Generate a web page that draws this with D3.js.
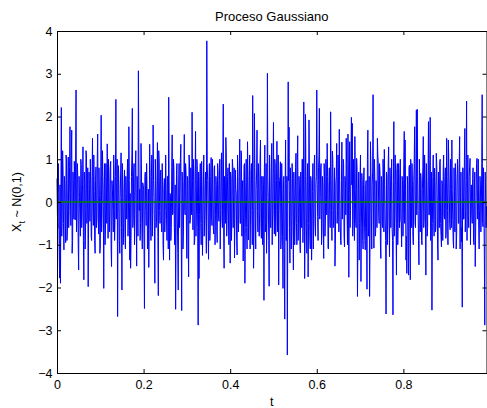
<!DOCTYPE html>
<html>
<head>
<meta charset="utf-8">
<script src="https://cdn.jsdelivr.net/npm/d3@7"></script>
<style>
  body { margin: 0; background: #fff; }
  svg { display: block; }
  text { font-family: "Liberation Sans", Arial, Helvetica, sans-serif; fill: #000; }
</style>
</head>
<body>
<svg id="chart" width="487" height="408"></svg>
<script>
// Gaussian process X_t ~ N(0,1), sampled every sampleStep seconds.
// evenSamples holds samples 0, 2, 4, ...; oddSamples holds samples 1, 3, 5, ...
const evenSamples = [
  0.55,-0.62,0.18,-1.78,-1.9,2.21,-0.35,0.72,-1.12,0.4,-0.95,0.96,-0.7,1.05,-0.2,1.76,-0.55,1.68,-0.9,0.3,
  0.95,-0.42,2.62,-0.25,0.6,-1.59,0.1,-0.8,0.88,-0.3,1.29,-1.82,0.45,-0.6,1.1,-0.15,-1.98,0.7,-0.45,0.35,
  -0.9,1.49,-0.55,0.25,-1.2,0.82,-0.4,1.59,-0.75,0.15,-1.05,2.03,-0.3,0.6,-2.02,0.9,-0.65,0.38,1.36,-0.85,
  0.5,-0.2,0.95,-1.51,0.3,-0.7,0.62,-0.4,2.4,0.2,-2.68,0.85,-0.9,0.1,1.15,-2.06,0.4,-0.5,0.75,-1.1,
  0.2,0.55,-0.8,1.76,-1.36,-1.55,0.6,2.19,-0.5,0.9,-0.3,1.2,-1.5,0.4,3.07,-0.2,-0.9,1.37,-0.6,0.45,
  0.3,-2.49,0.7,-0.55,0.25,-0.95,-1.53,1.35,-0.4,0.6,-0.8,1.8,0.1,-1.9,0.5,-0.35,1.39,-2.19,0.95,-0.5,
  0.75,-0.7,0.4,-1.36,0.55,-0.2,0.3,-0.9,0.6,2.45,-1.36,0.15,-0.6,1.57,-0.25,0.8,-1.0,-2.51,0.65,-0.4,
  -2.06,0.9,0.2,1.35,-2.54,0.45,-0.7,1.58,-0.3,0.7,-1.32,0.5,-1.75,0.95,-0.4,0.3,2.1,-0.65,0.6,-0.9,
  1.65,-0.3,0.85,-2.88,-1.79,0.6,-0.5,0.95,-1.25,0.4,-0.8,0.3,-0.35,3.77,0.5,-1.34,0.9,-0.6,1.04,-0.55,
  0.2,-0.75,0.85,-0.3,0.4,-0.95,0.7,-0.45,1.0,-0.2,1.15,-0.6,2.29,-1.55,0.3,1.51,-0.8,0.6,-0.4,0.9,
  -1.43,0.55,-0.35,0.8,0.15,-1.31,0.75,0.2,-1.24,0.6,-0.3,1.47,-0.5,1.1,0.3,-1.38,0.85,-1.9,0.45,-0.6,
  1.41,-0.89,0.5,-1.1,0.7,-0.2,2.49,-1.55,2.07,-0.4,0.3,1.68,-0.7,0.55,-0.25,1.45,-0.85,0.2,0.6,-2.3,
  1.33,-0.5,-1.2,3.01,0.1,-1.97,0.4,-0.6,1.37,-0.3,1.86,-0.75,0.9,-0.4,1.42,0.2,-1.94,0.5,0.94,-0.8,
  0.3,-2.02,0.6,-2.74,1.45,-0.9,-3.58,2.81,1.75,-1.43,0.4,-0.7,0.55,-1.59,0.2,-0.45,1.14,-1.0,1.55,-0.3,
  0.35,-1.19,-0.4,1.0,-0.95,2.34,-1.79,2.05,-0.6,0.5,-1.75,1.92,-0.85,0.6,-1.36,0.25,-1.1,0.87,-0.5,0.4,
  2.62,-0.34,0.8,2.19,0.1,0.9,-0.69,0.4,-1.32,0.6,-0.4,0.75,1.37,-1.08,0.35,-0.3,2.11,-0.2,1.19,-0.6,
  0.3,-1.5,0.45,1.37,-0.2,0.8,1.7,-0.42,-1.0,1.4,0.2,0.9,-1.05,0.5,1.49,-0.3,1.59,-1.76,1.41,-0.2,
  1.98,1.84,-0.4,0.6,1.53,-0.5,1.02,-2.21,0.3,-1.36,0.55,-1.86,0.67,-0.9,0.4,-0.35,-1.12,0.5,-2.04,1.68,
  -0.6,-2.21,1.41,-0.3,0.4,2.51,-1.08,0.6,-0.7,0.3,1.49,0.9,-0.5,0.7,-1.32,0.45,-0.6,0.75,1.23,-0.35,
  -2.62,0.6,-0.4,1.29,-1.28,0.5,0.24,-0.6,-2.64,1.88,-0.3,0.75,-1.71,0.9,-0.5,0.2,0.67,-0.4,-1.05,0.5,
  -0.3,1.65,1.45,-1.36,-1.67,0.4,-1.71,0.86,-1.82,0.2,0.9,-0.8,0.5,1.76,-0.6,2.15,2.17,-0.2,-1.47,0.35,
  0.67,-0.9,0.3,1.53,-0.4,0.55,-1.71,0.2,-0.6,1.88,-0.3,1.98,-0.5,-2.53,0.6,-0.4,0.79,-0.7,1.14,0.2,
  -1.36,0.3,0.94,-0.5,-1.05,0.4,0.75,-0.3,0.6,-0.85,1.49,-0.2,1.45,0.3,-0.65,0.5,1.45,-0.4,-1.08,0.25,
  0.9,-1.1,0.4,0.67,-0.5,1.53,0.1,-0.93,-2.46,0.79,-0.4,1.72,-0.2,2.36,0.5,-0.3,0.6,1.02,0.2,-0.3,
  0.55,-0.89,0.3,-1.51,0.1,1.02,0.3,-0.65,-0.19,0.4,-0.3,2.51,-0.58,-0.1,-2.88,0.16,-0.1
];
const oddSamples = [
  -0.3,0.9,-1.1,0.4,0.1,-0.8,1.2,-0.5,0.6,-0.2,1.1,-0.9,0.3,-0.6,0.8,0.2,1.0,-1.2,0.7,-0.4,
  0.5,1.1,-0.7,0.9,-1.0,0.6,-0.3,1.0,-0.6,0.4,-0.9,0.7,-1.1,1.2,-0.5,0.8,-0.4,0.2,1.0,-0.8,
  0.6,-0.2,1.1,-0.9,0.5,-0.6,1.0,-0.3,0.8,-1.2,0.4,-0.7,1.2,-0.1,0.3,-1.0,0.9,-0.5,0.2,1.0,
  -0.7,0.8,-1.1,0.5,-0.2,1.1,-0.9,0.6,-0.4,1.0,-0.3,0.4,-1.2,0.7,-0.6,0.9,-1.0,0.3,-0.8,0.6,
  -0.4,1.0,-0.3,0.5,0.2,-0.9,1.1,-0.6,0.7,-1.0,0.8,-0.2,0.6,-0.8,1.2,0.3,-0.5,0.9,-1.1,0.4,
  -1.0,0.6,-0.2,0.9,-1.1,0.3,-0.4,0.8,-0.9,1.1,-0.3,0.5,-0.7,1.0,-0.6,0.4,-0.8,1.2,-0.2,0.7,
  -0.5,0.9,-1.0,0.3,-0.7,1.1,-0.4,0.6,-1.1,0.5,0.2,-0.9,0.8,-0.3,1.0,-0.6,0.4,-0.8,0.9,-1.2,
  0.4,-0.6,1.0,-0.8,0.7,-1.1,0.5,-0.2,0.9,-0.7,0.6,-0.9,1.1,-0.5,0.8,-0.3,0.5,1.0,-1.0,0.6,
  -0.8,1.0,-0.6,0.7,-0.3,0.9,-1.0,0.4,-0.5,1.1,-0.4,0.7,-1.2,0.9,-0.6,0.5,-0.9,0.6,-0.4,1.0,
  -0.6,0.8,-1.0,0.6,-0.7,0.9,-0.3,0.5,-1.1,0.7,-0.4,1.0,-0.8,0.6,-0.5,1.1,-0.3,0.8,-1.0,0.4,
  0.7,-0.9,1.0,-0.6,0.8,-0.4,0.3,-0.9,1.1,-0.7,0.6,-0.5,1.2,-0.8,0.5,-0.3,0.9,-0.6,1.0,-1.1,
  0.6,-0.4,1.1,-0.3,0.9,-1.0,0.5,-0.7,0.8,-1.1,0.7,-0.2,0.9,-0.8,1.0,-0.5,0.6,-1.0,0.3,0.8,
  -0.7,0.9,-0.4,0.6,-0.9,1.1,-0.6,0.8,-1.0,0.7,-0.2,1.0,-0.8,0.5,-0.7,1.1,-0.3,0.6,-1.1,0.9,
  -0.8,0.5,-1.2,0.4,-0.9,0.6,-0.2,0.5,-0.6,0.8,-1.1,0.9,-0.4,0.7,-1.0,0.8,-0.5,1.0,-0.9,0.6,
  -0.9,0.7,-0.6,1.0,-0.3,0.4,-0.8,0.6,-1.2,0.9,-0.5,0.7,-1.1,0.5,-0.7,0.9,-0.4,1.1,-0.8,0.6,
  0.5,-0.9,1.1,-0.4,0.8,-1.0,0.6,-0.5,0.9,-0.8,1.0,-0.3,0.6,-1.1,0.8,-0.6,0.7,-0.9,1.0,-0.4,
  0.8,-1.0,0.6,-0.5,1.1,-0.7,0.4,-0.9,0.5,-0.4,1.0,-0.8,0.6,-0.3,0.9,-1.0,0.7,0.2,-0.6,1.0,
  0.4,-0.8,1.0,-0.9,0.3,-0.6,0.8,-1.0,0.7,-0.5,1.1,-0.6,0.5,-1.1,0.8,-0.9,0.4,-0.7,1.0,-0.8,
  0.6,-0.9,0.8,-1.1,0.7,-0.4,1.0,-0.8,0.5,-0.6,1.1,-0.3,0.9,-1.0,0.6,-0.5,1.0,-0.7,0.4,-0.9,
  0.7,-1.0,0.9,-0.5,0.8,-0.6,1.0,-0.9,0.5,-0.8,1.1,-0.4,0.7,-1.0,0.9,-0.6,1.0,-0.5,0.6,-0.8,
  0.9,-0.5,0.3,-0.8,0.6,-1.1,0.8,-0.7,1.0,-0.6,0.4,-1.0,0.9,-0.5,0.7,-0.3,0.6,-0.9,1.0,-0.7,
  0.5,-1.0,0.8,-0.6,1.1,-0.4,0.9,-0.8,0.6,-0.3,1.0,-0.9,0.7,-0.5,1.1,-0.8,0.4,-0.6,0.9,-1.0,
  0.7,-0.6,1.0,-0.8,0.5,-0.9,1.1,-0.4,0.8,-0.7,0.6,-1.0,0.9,-0.5,1.0,-0.6,0.3,-0.9,0.8,-0.7,
  0.6,-0.8,1.0,-0.5,0.9,-1.1,0.7,-0.6,0.8,-0.4,1.0,-0.7,0.5,-0.9,1.1,-0.6,0.8,-1.0,0.4,-0.5,
  0.8,-1.0,0.7,-0.6,0.9,-0.4,1.0,-1.1,0.6,-0.7,0.9,-0.5,0.8,-1.2,0.7,-0.6
];
const sampleStep = 0.001;
const meanValue = 0;                       // mean of the process, drawn as a reference line
const xTicks = [0, 0.2, 0.4, 0.6, 0.8];
const yTicks = [-4, -3, -2, -1, 0, 1, 2, 3, 4];
const titleText = "Proceso Gaussiano";
const xLabel = "t";

// merge the two halves back into time order
const samples = [];
evenSamples.forEach((v, i) => {
  samples.push(v);
  if (i < oddSamples.length) samples.push(oddSamples[i]);
});
const points = samples.map((v, i) => ({ t: i * sampleStep, v }));
const tEnd = points[points.length - 1].t;

const svg = d3.select("#chart");
const plot = { left: 57, right: 486.5, top: 31, bottom: 373 };

const x = d3.scaleLinear().domain([0, tEnd]).range([plot.left, plot.right]);
const y = d3.scaleLinear().domain([-4, 4]).range([plot.bottom, plot.top]);

const fmtY = d3.format("d");
const fmtX = v => (v === 0 ? "0" : d3.format(".1f")(v));

// signal trace
const line = d3.line().x(d => x(d.t)).y(d => y(d.v));
svg.append("path")
  .datum(points)
  .attr("fill", "none")
  .attr("stroke", "#0000ff")
  .attr("stroke-width", 1)
  .attr("stroke-linejoin", "round")
  .attr("d", line);

// mean line
svg.append("path")
  .datum([{ t: 0, v: meanValue }, { t: tEnd, v: meanValue }])
  .attr("fill", "none")
  .attr("stroke", "#008000")
  .attr("stroke-width", 1.3)
  .attr("d", line);

// axes with inward ticks on all four sides
const tickLen = 4;
const fontSize = 12.5;

const axisBottomG = svg.append("g")
  .attr("transform", `translate(0,${plot.bottom})`)
  .call(d3.axisBottom(x).tickValues(xTicks).tickFormat(fmtX)
    .tickSizeInner(-tickLen).tickSizeOuter(0).tickPadding(7));
const axisTopG = svg.append("g")
  .attr("transform", `translate(0,${plot.top})`)
  .call(d3.axisTop(x).tickValues(xTicks).tickFormat("")
    .tickSizeInner(-tickLen).tickSizeOuter(0));
const axisLeftG = svg.append("g")
  .attr("transform", `translate(${plot.left},0)`)
  .call(d3.axisLeft(y).tickValues(yTicks).tickFormat(fmtY)
    .tickSizeInner(-tickLen).tickSizeOuter(0).tickPadding(4.5));
const axisRightG = svg.append("g")
  .attr("transform", `translate(${plot.right},0)`)
  .call(d3.axisRight(y).tickValues(yTicks).tickFormat("")
    .tickSizeInner(-tickLen).tickSizeOuter(0));

[axisBottomG, axisTopG, axisLeftG, axisRightG].forEach(g => {
  g.select(".domain").attr("stroke", "#000").attr("stroke-width", 1);
  g.selectAll(".tick line").attr("stroke", "#000").attr("stroke-width", 1);
  g.selectAll(".tick text")
    .attr("fill", "#000")
    .style("font-family", '"Liberation Sans", Arial, Helvetica, sans-serif')
    .style("font-size", fontSize + "px");
});

// title
svg.append("text")
  .attr("x", (plot.left + plot.right) / 2)
  .attr("y", 21)
  .attr("text-anchor", "middle")
  .style("font-size", "13px")
  .text(titleText);

// x label
svg.append("text")
  .attr("x", (plot.left + plot.right) / 2)
  .attr("y", 405.5)
  .attr("text-anchor", "middle")
  .style("font-size", fontSize + "px")
  .text(xLabel);

// y label: X_t ~ N(0,1)
const yl = svg.append("text")
  .attr("transform", `translate(21,${(plot.top + plot.bottom) / 2}) rotate(-90)`)
  .attr("text-anchor", "middle")
  .style("font-size", fontSize + "px");
yl.append("tspan").text("X");
yl.append("tspan").attr("dy", 3.5).style("font-size", "9px").text("t");
yl.append("tspan").attr("dy", -3.5).text(" ~ N(0,1)");
</script>
</body>
</html>
